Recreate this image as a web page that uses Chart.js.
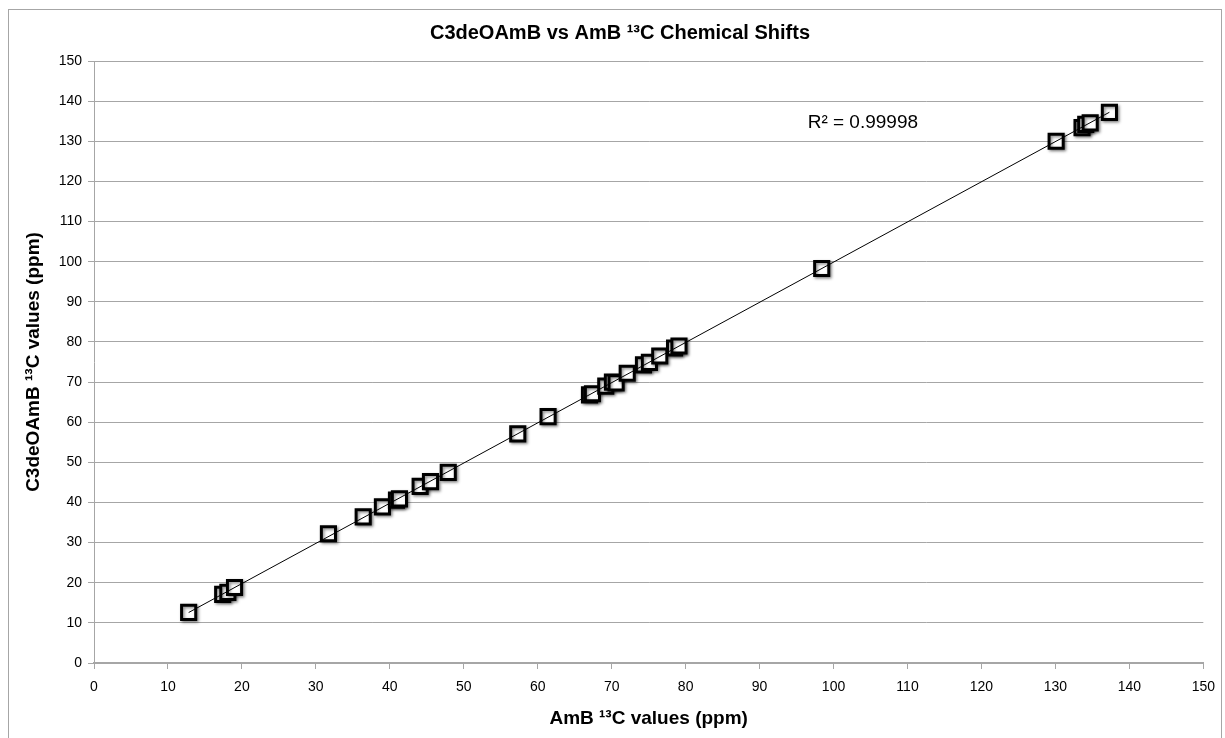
<!DOCTYPE html>
<html>
<head>
<meta charset="utf-8">
<script src="https://cdn.jsdelivr.net/npm/chart.js@4"></script>
<style>
  html, body { margin: 0; padding: 0; background: #fff; }
  #wrap { position: relative; width: 1225px; height: 738px; }
</style>
</head>
<body>
<div id="wrap"><canvas id="chart"></canvas></div>
<script>
// AmB shifts (x) and C3deOAmB shifts (y), ppm
const ambShifts = [12.8, 17.4, 18.1, 19.0, 31.7, 36.4, 39.0, 40.9, 41.3, 44.1, 45.5, 47.9,
  57.3, 61.4, 67.0, 67.4, 69.2, 70.1, 70.6, 72.1, 74.3, 75.1, 76.5, 78.5, 79.1,
  98.4, 130.1, 133.6, 134.1, 134.7, 137.3];
const c3Shifts = [12.6, 17.1, 17.6, 18.8, 32.2, 36.4, 38.9, 40.6, 40.9, 44.0, 45.2, 47.5,
  57.1, 61.4, 66.8, 67.1, 69.0, 70.0, 69.8, 72.2, 74.3, 74.9, 76.5, 78.5, 79.0,
  98.3, 130.0, 133.4, 134.2, 134.6, 137.2];
const axisTicks = [0, 10, 20, 30, 40, 50, 60, 70, 80, 90, 100, 110, 120, 130, 140, 150];
const rSquaredLabel = 'R² = 0.99998';

const FONT = 'Arial, "Liberation Sans", sans-serif';

// least squares fit for the trendline
function linearFit(xs, ys) {
  const n = xs.length;
  const mx = xs.reduce((a, b) => a + b, 0) / n;
  const my = ys.reduce((a, b) => a + b, 0) / n;
  let sxy = 0, sxx = 0;
  xs.forEach((x, i) => { sxy += (x - mx) * (ys[i] - my); sxx += (x - mx) ** 2; });
  const slope = sxy / sxx;
  return { slope, intercept: my - slope * mx };
}

const fit = linearFit(ambShifts, c3Shifts);
const xMin = Math.min(...ambShifts);
const xMax = Math.max(...ambShifts);
const trend = [xMin, xMax].map(x => ({ x, y: fit.slope * x + fit.intercept }));
const points = ambShifts.map((x, i) => ({ x, y: c3Shifts[i] }));

// frame, title and R² text
const decorations = {
  id: 'decorations',
  beforeDraw(chart) {
    const { ctx } = chart;
    ctx.save();
    ctx.strokeStyle = '#a6a6a6';
    ctx.lineWidth = 1;
    ctx.strokeRect(8.5, 9.5, 1213, 760);
    ctx.restore();
  },
  afterDraw(chart) {
    const { ctx, scales } = chart;
    ctx.save();
    ctx.fillStyle = '#000';
    ctx.textBaseline = 'middle';
    ctx.textAlign = 'center';
    ctx.font = 'bold 20px ' + FONT;
    ctx.fillText('C3deOAmB vs AmB ¹³C Chemical Shifts', 620, 33);
    ctx.textAlign = 'left';
    ctx.font = '19px ' + FONT;
    ctx.fillText(rSquaredLabel, scales.x.getPixelForValue(96.5), scales.y.getPixelForValue(134.5));
    ctx.restore();
  },
  beforeDatasetDraw(chart, args) {
    if (args.index === 1) {
      const { ctx } = chart;
      ctx.save();
      ctx.shadowColor = 'rgba(0,0,0,0.45)';
      ctx.shadowBlur = 3;
      ctx.shadowOffsetX = 1.5;
      ctx.shadowOffsetY = 1.5;
    }
  },
  afterDatasetDraw(chart, args) {
    if (args.index === 1) chart.ctx.restore();
  },
};

new Chart(document.getElementById('chart'), {
  type: 'scatter',
  data: {
    datasets: [
      {
        type: 'line',
        label: 'Linear',
        data: trend,
        borderColor: '#000',
        borderWidth: 1,
        pointRadius: 0,
        fill: false,
      },
      {
        label: 'C3deOAmB',
        data: points,
        pointStyle: 'rect',
        pointRadius: 10,
        pointHoverRadius: 10,
        pointBorderWidth: 3,
        borderColor: '#000',
        backgroundColor: '#fff',
      },
    ],
  },
  options: {
    responsive: true,
    maintainAspectRatio: false,
    animation: false,
    layout: { padding: { top: 61, right: 20, left: 0, bottom: 0 } },
    plugins: {
      legend: { display: false },
      tooltip: { enabled: false },
    },
    scales: {
      x: {
        type: 'linear',
        min: 0,
        max: 150,
        afterBuildTicks: s => { s.ticks = axisTicks.map(v => ({ value: v })); },
        afterFit: s => { s.height = 75; },
        grid: { drawOnChartArea: false, drawTicks: true, tickLength: 6, color: '#a6a6a6' },
        border: { color: '#a6a6a6', width: 2 },
        ticks: { color: '#000', padding: 10, font: { family: FONT, size: 14 }, maxRotation: 0 },
        title: {
          display: true,
          text: 'AmB ¹³C values (ppm)',
          color: '#000',
          font: { family: FONT, size: 19, weight: 'bold' },
          padding: { top: 0, bottom: 8 },
        },
      },
      y: {
        type: 'linear',
        min: 0,
        max: 150,
        afterBuildTicks: s => { s.ticks = axisTicks.map(v => ({ value: v })); },
        afterFit: s => { s.width = 94; },
        grid: { color: '#a6a6a6', drawTicks: true, tickLength: 6 },
        border: { color: '#a6a6a6', width: 1 },
        ticks: { color: '#000', padding: 6, font: { family: FONT, size: 14 } },
        title: {
          display: true,
          text: 'C3deOAmB ¹³C values (ppm)',
          color: '#000',
          font: { family: FONT, size: 19, weight: 'bold' },
          padding: { top: 22, bottom: 0 },
        },
      },
    },
  },
  plugins: [decorations],
});
</script>
</body>
</html>
